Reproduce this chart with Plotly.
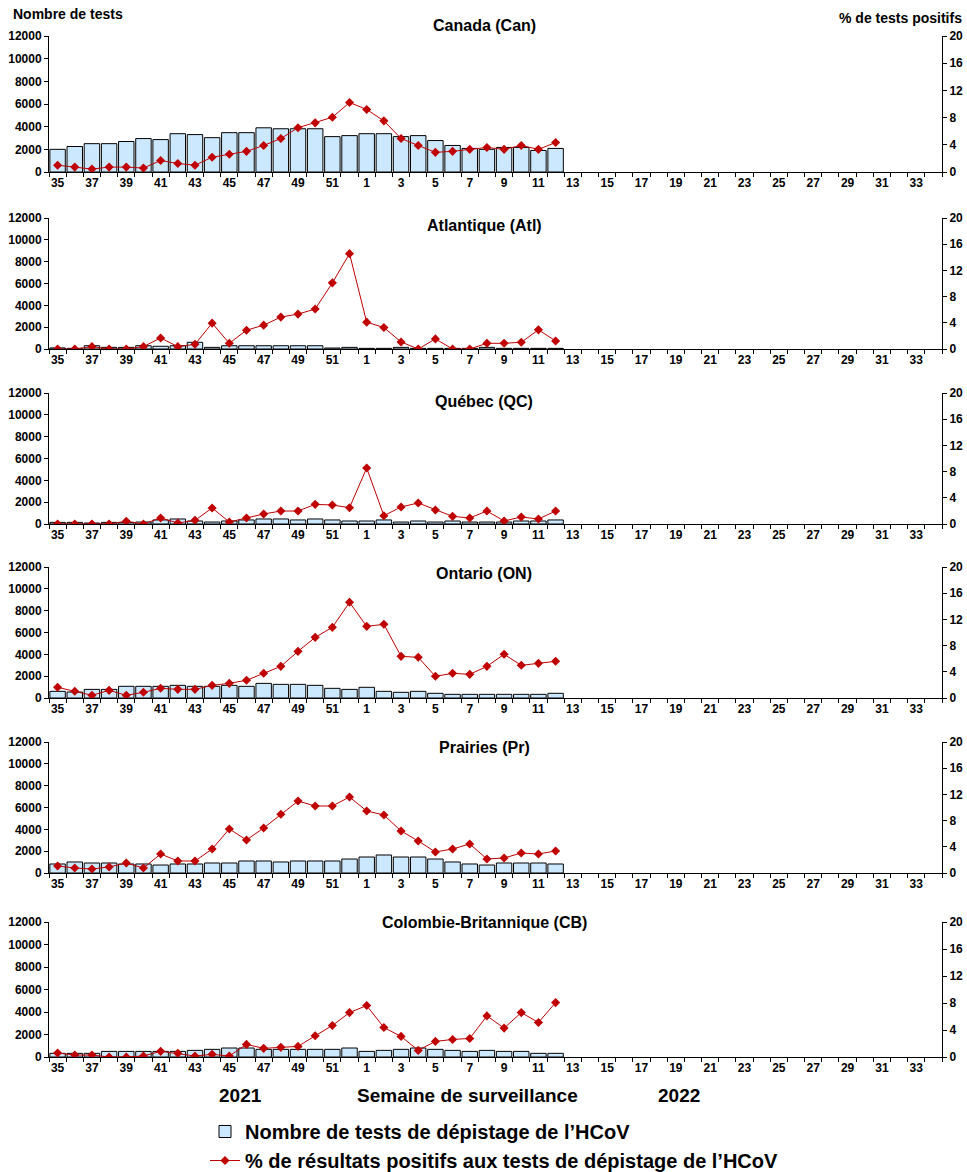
import plotly.graph_objects as go

W, H = 967, 1172
ML, MR = 49, 25
PW = W - ML - MR

weeks_all = [str(w) for w in list(range(35, 53)) + list(range(1, 35))]
weeks = weeks_all[:30]  # 35..52, 1..12
tick_text = [w if i % 2 == 0 else "" for i, w in enumerate(weeks_all)]

regions = ["Canada (Can)", "Atlantique (Atl)", "Québec (QC)", "Ontario (ON)",
           "Prairies (Pr)", "Colombie-Britannique (CB)"]

tests_can = [2000, 2250, 2500, 2500, 2690, 2950, 2860, 3380, 3300, 3030, 3470, 3470, 3900, 3815, 3815,
             3815, 3120, 3210, 3380, 3380, 3120, 3210, 2775, 2340, 2080, 2000, 2170, 2170, 1900, 2080]
pos_can = [1.0, 0.72, 0.43, 0.72, 0.72, 0.58, 1.69, 1.25, 1.0, 2.17, 2.6, 3.04, 3.9, 4.92, 6.51,
           7.23, 8.05, 10.22, 9.2, 7.52, 4.92, 3.9, 2.89, 3.04, 3.33, 3.61, 3.33, 3.9, 3.33, 4.34]

tests_atl = [100, 60, 300, 150, 150, 300, 250, 300, 615, 150, 300, 300, 300, 300, 300,
             300, 90, 150, 60, 60, 150, 60, 60, 60, 60, 150, 60, 60, 60, 60]
pos_atl = [0, 0, 0.36, 0, 0, 0.36, 1.69, 0.36, 0.72, 3.95, 0.87, 2.87, 3.64, 4.87, 5.33,
           6.1, 10.1, 14.56, 4.1, 3.28, 1.08, 0, 1.54, 0, 0, 0.87, 0.87, 1.03, 2.92, 1.23]

tests_qc = [150, 150, 90, 150, 150, 180, 370, 460, 275, 180, 275, 370, 460, 460, 370,
            460, 370, 275, 275, 370, 180, 275, 180, 275, 180, 180, 180, 275, 275, 370]
pos_qc = [0, 0, 0, 0, 0.41, 0, 0.92, 0.15, 0.56, 2.44, 0.31, 0.92, 1.53, 1.98, 1.98,
          3.0, 2.9, 2.49, 8.55, 1.27, 2.6, 3.21, 2.14, 1.17, 0.92, 1.98, 0.46, 1.07, 0.76, 1.98]

tests_on = [610, 550, 790, 790, 1070, 1070, 1070, 1160, 1070, 1070, 1160, 1070, 1340, 1250, 1250,
            1160, 885, 790, 980, 610, 520, 610, 430, 335, 335, 335, 335, 335, 335, 430]
pos_on = [1.63, 1.02, 0.41, 1.17, 0.41, 0.87, 1.48, 1.32, 1.32, 1.93, 2.24, 2.7, 3.77, 4.83, 7.12,
          9.26, 10.79, 14.61, 10.94, 11.25, 6.36, 6.21, 3.31, 3.77, 3.61, 4.83, 6.67, 4.99, 5.29, 5.6]

tests_pr = [825, 1010, 915, 915, 825, 825, 730, 825, 825, 915, 915, 1100, 1100, 1010, 1100,
            1100, 1100, 1280, 1465, 1650, 1465, 1465, 1280, 1010, 825, 730, 915, 915, 915, 825]
pos_pr = [1.07, 0.76, 0.61, 0.92, 1.53, 0.76, 2.9, 1.83, 1.83, 3.66, 6.72, 5.04, 6.87, 8.96, 10.99,
          10.23, 10.23, 11.6, 9.47, 8.85, 6.41, 4.89, 3.21, 3.66, 4.43, 2.14, 2.29, 3.05, 2.9, 3.36]

tests_cb = [325, 325, 325, 500, 500, 500, 500, 500, 590, 680, 800, 800, 680, 680, 680,
            680, 680, 800, 500, 590, 680, 800, 680, 590, 500, 590, 500, 500, 325, 325]
pos_cb = [0.59, 0.29, 0.29, 0, 0, 0.15, 0.84, 0.54, 0.15, 0.39, 0.15, 1.87, 1.28, 1.43, 1.57,
          3.14, 4.67, 6.58, 7.62, 4.37, 3.05, 0.98, 2.31, 2.6, 2.75, 6.09, 4.28, 6.58, 5.11, 8.06]

tests = [tests_can, tests_atl, tests_qc, tests_on, tests_pr, tests_cb]
pos = [pos_can, pos_atl, pos_qc, pos_on, pos_pr, pos_cb]

left_ticks = list(range(0, 12001, 2000))
right_ticks = list(range(0, 21, 4))
boundaries = [k - 0.5 for k in range(len(weeks_all) + 1)]

# panel pixel extents (top, bottom) and title y
panels_px = [(36, 172), (218, 349), (393, 524), (567, 698), (742, 873), (922, 1057)]
title_px = [25, 225, 401, 573, 748, 922]

BAR_NAME = "Nombre de tests de dépistage de l’HCoV"
LINE_NAME = "% de résultats positifs aux tests de dépistage de l’HCoV"
BAR_FILL = "#CCE8FF"
RED = "#C00000"
FONT = "Liberation Sans, Arial, sans-serif"
TL = 4


def py(p):
    return 1 - p / H


def px(p):
    return (p - ML) / PW


tickfont = dict(family=FONT, size=12, color="black", weight="bold")

fig = go.Figure()
layout = {}
annotations = []

for i in range(6):
    xname = "x" if i == 0 else f"x{i+1}"
    yl = f"y{2*i+1}" if i > 0 else "y"
    yr = f"y{2*i+2}"
    fig.add_trace(go.Bar(
        x=weeks, y=tests[i], xaxis=xname, yaxis=yl, name=BAR_NAME,
        marker=dict(color=BAR_FILL, line=dict(color="black", width=1)),
        showlegend=(i == 0), legendgroup="bar"))
    fig.add_trace(go.Scatter(
        x=weeks, y=pos[i], xaxis=xname, yaxis=yr, name=LINE_NAME, mode="lines+markers",
        line=dict(color=RED, width=1),
        marker=dict(symbol="diamond", size=7, color=RED),
        showlegend=(i == 0), legendgroup="line"))

    top, bot = panels_px[i]
    dom = [py(bot), py(top)]
    xkey = "xaxis" if i == 0 else f"xaxis{i+1}"
    ylkey = "yaxis" if i == 0 else f"yaxis{2*i+1}"
    yrkey = f"yaxis{2*i+2}"
    layout[xkey] = dict(
        domain=[0, 1], anchor=yl, type="category",
        categoryorder="array", categoryarray=weeks_all,
        range=[-0.5, len(weeks_all) - 0.5],
        tickmode="array", tickvals=weeks_all, ticktext=tick_text,
        tickson="boundaries", ticks="outside", ticklen=TL, tickcolor="black",
        showline=True, linecolor="black", linewidth=1, showgrid=False,
        tickfont=tickfont, tickangle=0, fixedrange=True)
    layout[ylkey] = dict(
        domain=dom, anchor=xname, range=[0, 12000], tickmode="array",
        tickvals=left_ticks, ticktext=[str(v) for v in left_ticks],
        ticks="outside", ticklen=TL,
        tickcolor="black", showline=True, linecolor="black", linewidth=1,
        showgrid=False, zeroline=False, tickfont=tickfont)
    layout[yrkey] = dict(
        domain=dom, anchor=xname, overlaying=yl, side="right", range=[0, 20],
        tickmode="array", tickvals=right_ticks, ticktext=[str(v) for v in right_ticks],
        ticks="outside", ticklen=TL,
        tickcolor="black", showline=True, linecolor="black", linewidth=1,
        showgrid=False, zeroline=False, tickfont=tickfont)

    # companion axes drawing the inner half of the crossing tick marks
    layout[f"xaxis{7+i}"] = dict(
        domain=[0, 1], anchor=yl, overlaying=xname, side="bottom",
        range=[-0.5, len(weeks_all) - 0.5], tickmode="array", tickvals=boundaries,
        ticks="inside", ticklen=TL, tickcolor="black", showticklabels=False,
        showline=False, showgrid=False, zeroline=False, fixedrange=True)
    layout[f"yaxis{13+i}"] = dict(
        domain=dom, anchor=xname, overlaying=yl, side="left", range=[0, 12000],
        tickmode="array", tickvals=left_ticks, ticks="inside", ticklen=TL,
        tickcolor="black", showticklabels=False, showline=False, showgrid=False,
        zeroline=False)
    layout[f"yaxis{19+i}"] = dict(
        domain=dom, anchor=xname, overlaying=yl, side="right", range=[0, 20],
        tickmode="array", tickvals=right_ticks, ticks="inside", ticklen=TL,
        tickcolor="black", showticklabels=False, showline=False, showgrid=False,
        zeroline=False)

    annotations.append(dict(
        text=regions[i], xref="paper", yref="paper", x=px(484), y=py(title_px[i]),
        xanchor="center", yanchor="middle", showarrow=False,
        font=dict(family=FONT, size=16, color="black", weight="bold")))

annotations += [
    dict(text="Nombre de tests", xref="paper", yref="paper", x=px(11), y=py(14),
         xanchor="left", yanchor="middle", showarrow=False,
         font=dict(family=FONT, size=14, color="black", weight="bold")),
    dict(text="% de tests positifs", xref="paper", yref="paper", x=px(964), y=py(18),
         xanchor="right", yanchor="middle", showarrow=False,
         font=dict(family=FONT, size=14, color="black", weight="bold")),
    dict(text="2021", xref="paper", yref="paper", x=px(240), y=py(1095),
         xanchor="center", yanchor="middle", showarrow=False,
         font=dict(family=FONT, size=19, color="black", weight="bold")),
    dict(text="Semaine de surveillance", xref="paper", yref="paper", x=px(467), y=py(1095),
         xanchor="center", yanchor="middle", showarrow=False,
         font=dict(family=FONT, size=19, color="black", weight="bold")),
    dict(text="2022", xref="paper", yref="paper", x=px(679), y=py(1095),
         xanchor="center", yanchor="middle", showarrow=False,
         font=dict(family=FONT, size=19, color="black", weight="bold")),
]

fig.update_layout(
    **layout,
    annotations=annotations,
    width=W, height=H,
    margin=dict(l=ML, r=MR, t=0, b=0, autoexpand=False),
    paper_bgcolor="white", plot_bgcolor="white",
    bargap=0.1,
    showlegend=True,
    legend=dict(x=px(205), y=py(1112), xanchor="left", yanchor="top",
                orientation="v", bgcolor="rgba(0,0,0,0)", tracegroupgap=0,
                itemwidth=30,
                font=dict(family=FONT, size=20, color="black", weight="bold")),
    font=dict(family=FONT, color="black"),
)

fig.write_html(
    "out.html",
    config={"displayModeBar": False},
    post_script="document.body.style.margin='0';document.body.style.overflow='hidden';")
